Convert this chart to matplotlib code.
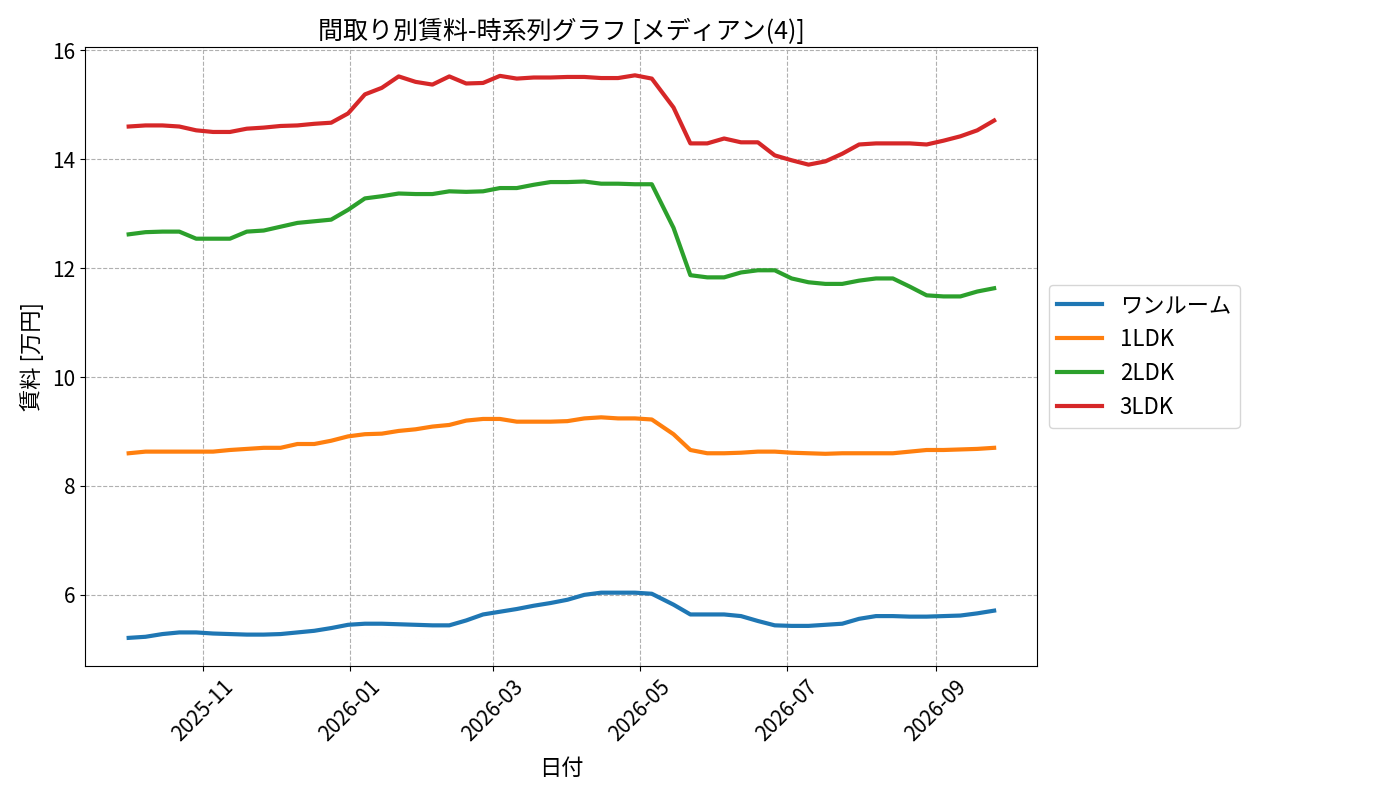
import pandas as pd
import numpy as np
import matplotlib.pyplot as plt
import matplotlib.dates as mdates

# Set fonts (Japanese text)
plt.rcParams['font.family'] = ['Noto Sans CJK JP', 'DejaVu Sans']

# Dates: weekly, with one longer step in May
dates = list(pd.date_range('2025-10-01', periods=32, freq='7D')) + \
    list(pd.date_range('2026-05-15', periods=20, freq='7D'))

# Median rent (万円)
one_room = [5.21, 5.23, 5.28, 5.31, 5.31, 5.29, 5.28, 5.27, 5.27, 5.28,
            5.31, 5.34, 5.39, 5.45, 5.47, 5.47, 5.46, 5.45, 5.44, 5.44,
            5.53, 5.64, 5.69, 5.74, 5.80, 5.85, 5.91, 6.00, 6.04, 6.04,
            6.04, 6.02, 5.82, 5.64, 5.64, 5.64, 5.61, 5.52, 5.44, 5.43,
            5.43, 5.45, 5.47, 5.56, 5.61, 5.61, 5.60, 5.60, 5.61, 5.62,
            5.66, 5.71]
ldk1 = [8.60, 8.63, 8.63, 8.63, 8.63, 8.63, 8.66, 8.68, 8.70, 8.70,
        8.77, 8.77, 8.83, 8.91, 8.95, 8.96, 9.01, 9.04, 9.09, 9.12,
        9.20, 9.23, 9.23, 9.18, 9.18, 9.18, 9.19, 9.24, 9.26, 9.24,
        9.24, 9.22, 8.95, 8.66, 8.60, 8.60, 8.61, 8.63, 8.63, 8.61,
        8.60, 8.59, 8.60, 8.60, 8.60, 8.60, 8.63, 8.66, 8.66, 8.67,
        8.68, 8.70]
ldk2 = [12.62, 12.66, 12.67, 12.67, 12.54, 12.54, 12.54, 12.67, 12.69, 12.76,
        12.83, 12.86, 12.89, 13.07, 13.28, 13.32, 13.37, 13.36, 13.36, 13.41,
        13.40, 13.41, 13.47, 13.47, 13.53, 13.58, 13.58, 13.59, 13.55, 13.55,
        13.54, 13.54, 12.74, 11.87, 11.83, 11.83, 11.92, 11.96, 11.96, 11.81,
        11.74, 11.71, 11.71, 11.77, 11.81, 11.81, 11.66, 11.50, 11.48, 11.48,
        11.57, 11.63]
ldk3 = [14.60, 14.62, 14.62, 14.60, 14.53, 14.50, 14.50, 14.56, 14.58, 14.61,
        14.62, 14.65, 14.67, 14.84, 15.19, 15.31, 15.52, 15.42, 15.37, 15.52,
        15.39, 15.40, 15.53, 15.48, 15.50, 15.50, 15.51, 15.51, 15.49, 15.49,
        15.54, 15.48, 14.95, 14.29, 14.29, 14.38, 14.31, 14.31, 14.07, 13.98,
        13.90, 13.96, 14.10, 14.27, 14.29, 14.29, 14.29, 14.27, 14.34, 14.42,
        14.53, 14.71]

series = [one_room, ldk1, ldk2, ldk3]
labels = ['ワンルーム', '1LDK', '2LDK', '3LDK']

fig, ax = plt.subplots(figsize=(14, 8), dpi=100)
fig.subplots_adjust(left=0.061, right=0.741, top=0.941, bottom=0.1675)

for vals, lab in zip(series, labels):
    ax.plot(dates, vals, linewidth=3, label=lab)

ax.set_title('間取り別賃料-時系列グラフ [メディアン(4)]', fontsize=18)
ax.set_xlabel('日付', fontsize=16, labelpad=8)
ax.set_ylabel('賃料 [万円]', fontsize=16, labelpad=6)
ax.xaxis.set_major_locator(mdates.MonthLocator(bymonth=[1, 3, 5, 7, 9, 11]))
ax.xaxis.set_major_formatter(mdates.DateFormatter('%Y-%m'))
ax.tick_params(axis='both', labelsize=15)
plt.setp(ax.get_xticklabels(), rotation=45)
ax.grid(True, linestyle='--', color='#b0b0b0', linewidth=0.8)
ax.legend(loc='center left', bbox_to_anchor=(1.0, 0.5), fontsize=16)

fig.savefig('out.png')
plt.close(fig)
